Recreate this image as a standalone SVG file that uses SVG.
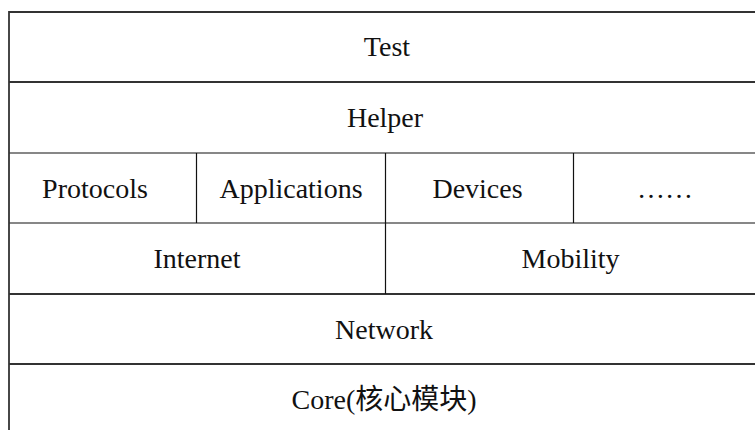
<svg xmlns="http://www.w3.org/2000/svg" width="755" height="430" viewBox="0 0 755 430">
  <style>
    .bg { fill: #ffffff; }
    .major { stroke: #333333; stroke-width: 1.8; fill: none; }
    .minor { stroke: #111111; stroke-width: 1.2; fill: none; }
    .label { font-family: "Liberation Serif", "Noto Sans CJK SC", serif; font-size: 28px; fill: #111111; text-anchor: middle; }
  </style>
  <rect class="bg" x="0" y="0" width="755" height="430"/>

  <!-- layer grid -->
  <g id="grid">
    <line class="major" x1="9" y1="12" x2="755" y2="12"/>
    <line class="major" x1="9" y1="82" x2="755" y2="82"/>
    <line class="minor" x1="9" y1="153" x2="755" y2="153"/>
    <line class="minor" x1="9" y1="223" x2="755" y2="223"/>
    <line class="major" x1="9" y1="294" x2="755" y2="294"/>
    <line class="major" x1="9" y1="364" x2="755" y2="364"/>
    <line class="major" x1="9" y1="11.1" x2="9" y2="430"/>
    <line class="minor" x1="196.5" y1="153" x2="196.5" y2="223"/>
    <line class="minor" x1="385.5" y1="153" x2="385.5" y2="294"/>
    <line class="minor" x1="573.5" y1="153" x2="573.5" y2="223"/>
  </g>

  <g id="test"><text class="label" x="387" y="56">Test</text></g>
  <g id="helper"><text class="label" x="385" y="127">Helper</text></g>
  <g id="protocols"><text class="label" x="95" y="197.5">Protocols</text></g>
  <g id="applications"><text class="label" x="291" y="197.5">Applications</text></g>
  <g id="devices"><text class="label" x="477.5" y="197.5">Devices</text></g>
  <g id="more"><text class="label" x="665" y="197.5">……</text></g>
  <g id="internet"><text class="label" x="197" y="268">Internet</text></g>
  <g id="mobility"><text class="label" x="570.5" y="268">Mobility</text></g>
  <g id="network"><text class="label" x="384" y="338.5">Network</text></g>
  <g id="core"><text class="label" x="384" y="409">Core(核心模块)</text></g>
</svg>
